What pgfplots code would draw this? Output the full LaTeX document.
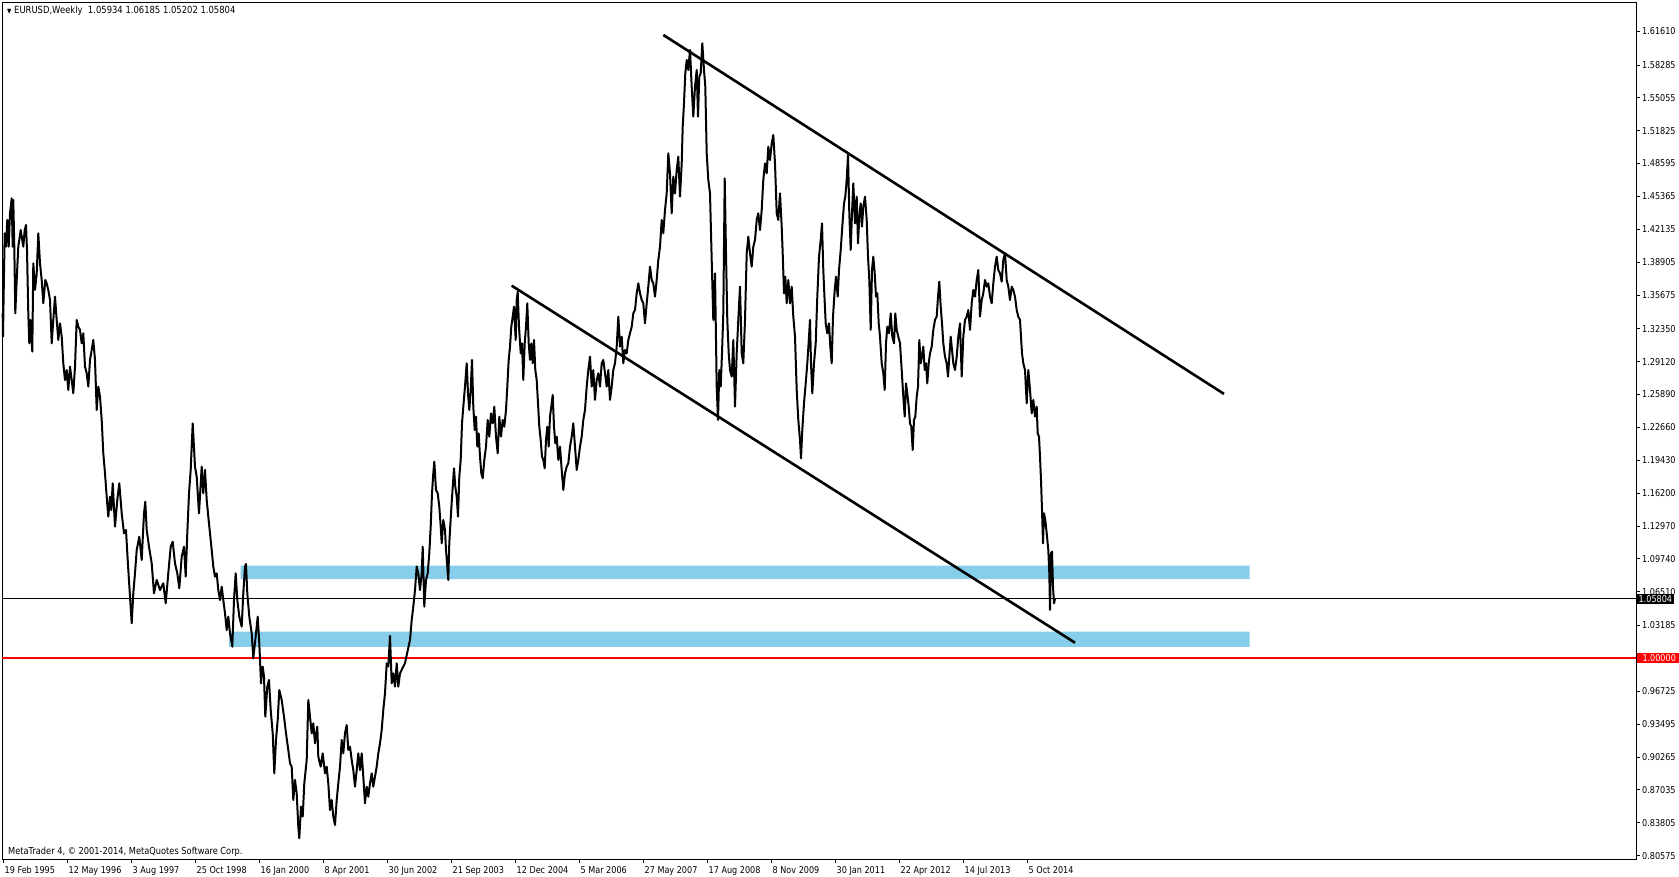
\documentclass[border=0pt]{standalone}
\usepackage{pgfplots}
\usepackage{pgfplotstable}
\pgfplotsset{compat=1.18}
\usepackage{fontspec}
\setmainfont{DejaVu Sans}[FakeStretch=0.86]
\definecolor{band}{HTML}{87CEEB}

\pgfplotstableread{
w p
-0.3 1.3387
0 1.3158
1 1.3780
1.7 1.4174
3 1.4042
4.3 1.4305
5.7 1.4042
7 1.4370
8.7 1.4518
9.7 1.4042
10.3 1.4501
11.3 1.4042
12.3 1.3387
13.7 1.3715
15.3 1.4042
17.7 1.4206
20.3 1.4042
21.7 1.4206
23 1.4255
24 1.4010
25.3 1.3387
26.3 1.3092
27.3 1.3322
29.3 1.3011
30.3 1.3879
32 1.3617
33.7 1.3780
35.3 1.4174
37 1.3879
38.7 1.3715
40.3 1.3486
42.3 1.3715
43.7 1.3682
45.3 1.3617
47 1.3518
48.7 1.3092
50.3 1.3322
52 1.3551
53.7 1.3322
55.3 1.3125
57 1.3289
58.7 1.3158
60.3 1.2896
62 1.2732
63.7 1.2830
65.3 1.2634
67 1.2863
68.7 1.2732
70.3 1.2601
72 1.2863
73.7 1.3322
75.3 1.3256
77 1.3224
78.7 1.3092
80.3 1.3191
82 1.2863
83.7 1.2798
85.3 1.2667
87 1.2929
88.7 1.3027
90.3 1.3125
92 1.2929
93.7 1.2437
95.3 1.2667
97 1.2568
98.7 1.2339
100.3 1.2011
102 1.1815
103.7 1.1585
105.3 1.1389
107 1.1585
108.3 1.1454
109.7 1.1717
112 1.1291
114.3 1.1553
116.3 1.1717
118.7 1.1422
121 1.1225
123 1.1258
124.7 1.0963
127 1.0603
128.7 1.0341
130.3 1.0636
132 1.0832
133.7 1.1061
136.3 1.1192
138.7 1.0963
141 1.1422
142.3 1.1536
143.7 1.1258
146 1.1094
148.7 1.0930
151 1.0636
153.7 1.0767
157 1.0668
160.3 1.0734
162.7 1.0537
165.3 1.0832
167.7 1.1094
169.7 1.1143
172 1.0930
174.3 1.0832
176.3 1.0685
178.7 1.0996
181 1.1094
182.7 1.0799
184.3 1.1225
186 1.1618
187.7 1.1848
189.7 1.2306
192 1.1880
193.7 1.1782
196 1.1422
198.7 1.1880
200.3 1.1618
202 1.1848
203.7 1.1553
205.3 1.1389
207 1.1225
208.7 1.1061
210.3 1.0898
212 1.0799
213.7 1.0832
215.3 1.0668
217 1.0570
218.7 1.0701
220.3 1.0570
222 1.0439
223.7 1.0275
225.3 1.0406
227 1.0242
229.3 1.0111
231 1.0570
232.7 1.0832
234.3 1.0570
236.3 1.0406
238.7 1.0308
240.3 1.0635
242 1.0898
243 1.0924
244.3 1.0635
246.3 1.0406
248.7 1.0242
250.3 0.9997
252.3 1.0177
254.7 1.0406
256.3 1.0144
258 0.9751
259.7 0.9915
261 0.9816
262.3 0.9423
264.3 0.9718
266 0.9784
267.7 0.9489
269.7 0.9260
271.3 0.8866
273 0.9194
274.7 0.9391
276.3 0.9685
278.7 0.9587
281 0.9423
283 0.9260
285.3 0.9096
287 0.8965
288.7 0.8932
290.3 0.8604
292 0.8801
293.7 0.8670
295.3 0.8342
296.3 0.8228
298 0.8539
299.7 0.8441
301.3 0.8768
303.7 0.8997
305.3 0.9587
307 0.9423
308.7 0.9260
310.3 0.9358
312 0.9161
314.3 0.9325
315.3 0.9030
317.7 0.8932
319.7 0.9063
322 0.8866
323.7 0.8932
325.3 0.8768
327 0.8506
328.7 0.8604
330.3 0.8441
332 0.8359
333.7 0.8604
335.3 0.8768
337 0.8932
338.7 0.9194
340.3 0.9063
342 0.9260
343.7 0.9341
345.3 0.9096
347 0.9128
348.7 0.8997
350.3 0.8899
352 0.8735
353.7 0.8899
355.3 0.9063
357 0.8899
358.7 0.9063
360.3 0.8834
362 0.8572
363.7 0.8735
365.3 0.8637
367 0.8768
368.7 0.8866
370.3 0.8735
372 0.8834
373.7 0.8932
375.3 0.9063
377 0.9161
378.7 0.9292
380.3 0.9489
382 0.9653
383.7 0.9948
385.3 0.9915
387 1.0216
388.7 0.9751
390.3 0.9849
392 0.9718
393.7 0.9948
395.3 0.9718
397 0.9849
402 0.9950
407 1.0177
408.7 1.0373
410.3 1.0504
412 1.0668
413.7 1.0898
415.3 1.0832
417 1.0668
418.7 1.0832
419.7 1.1094
421.3 1.0504
423 1.0766
424.7 1.0832
426.3 1.1029
427.7 1.1291
429 1.1618
430.3 1.1815
431.3 1.1929
433 1.1651
434.7 1.1618
436.3 1.1487
437.7 1.1291
438.7 1.1127
440.3 1.1356
442 1.1258
443 1.1061
444.3 1.0898
445.3 1.0766
446.3 1.1127
448 1.1422
449.3 1.1618
451 1.1864
452.3 1.1684
453.7 1.1585
455 1.1389
456.3 1.1782
457.7 1.1946
459 1.2306
460.3 1.2470
462 1.2667
463.7 1.2896
465 1.2601
466.3 1.2437
467.7 1.2634
469 1.2929
470.3 1.2470
471.7 1.2241
473 1.2372
474.3 1.2077
475.7 1.2208
477 1.1979
478.3 1.1815
479.7 1.1766
481.3 1.1946
483 1.2077
484.7 1.2339
486.3 1.2175
488 1.2404
489.7 1.2306
491.3 1.2470
493 1.2175
494.7 1.2011
496.3 1.2372
498 1.2175
499.7 1.2339
501.3 1.2273
503 1.2437
504.3 1.2667
505.7 1.2929
507 1.3060
508.3 1.3256
509.7 1.3355
511 1.3453
512.7 1.3125
513.7 1.3518
514.7 1.3600
516 1.3256
517.7 1.2994
519 1.3092
520.3 1.2732
521.7 1.3092
523 1.3256
524.3 1.3486
525.7 1.3092
527 1.2929
528.3 1.3092
529.7 1.2896
531 1.3125
532.3 1.2830
533.7 1.2732
535 1.2503
536.3 1.2273
537.7 1.2142
539 1.1979
540.3 1.1946
541.7 1.1864
543 1.2142
544.3 1.2273
545.7 1.2077
547 1.2372
548.3 1.2470
549.7 1.2585
551 1.2273
552.3 1.2110
553.7 1.2175
555.3 1.1946
557 1.2077
558.7 1.1848
560.3 1.1651
562 1.1815
563.7 1.1880
565.3 1.1913
567 1.2077
568.7 1.2175
570.3 1.2306
572 1.2077
573.7 1.1848
575.3 1.1946
577 1.2077
578.7 1.2175
580.3 1.2339
582 1.2437
583.7 1.2667
585.3 1.2830
587 1.2961
588.7 1.2667
590.3 1.2830
592 1.2536
593.7 1.2732
595.3 1.2798
597 1.2667
598.7 1.2896
600.3 1.2929
602 1.2798
603.7 1.2667
605.3 1.2830
607 1.2536
608.7 1.2667
610.3 1.2830
612 1.2896
613.7 1.3060
615.3 1.3355
617 1.3060
618.7 1.3158
620.3 1.2896
622 1.3027
623.7 1.2994
625.3 1.3125
627 1.3191
628.7 1.3256
630.3 1.3387
632 1.3420
633.7 1.3584
635.3 1.3682
637 1.3584
638.7 1.3518
640.3 1.3486
642 1.3289
643.7 1.3486
645.3 1.3649
647 1.3846
648.7 1.3715
650.3 1.3682
652 1.3551
653.7 1.3715
655.3 1.3911
657 1.4042
658.7 1.4305
660.3 1.4174
662 1.4403
663.7 1.4567
665.3 1.4960
667 1.4763
668.7 1.4370
670.3 1.4730
672 1.4567
673.7 1.4796
675.3 1.4927
677 1.4534
678.7 1.4861
679.7 1.5222
681 1.5451
682.3 1.5746
683.7 1.5877
685.3 1.5779
687 1.5975
688.7 1.5615
690.3 1.5320
692 1.5615
693.7 1.5779
695 1.5320
696.3 1.5713
697.7 1.5746
699.3 1.6041
701 1.5779
702.3 1.5615
703.7 1.4960
705.3 1.4698
707 1.4567
708.7 1.3911
710.3 1.3322
712 1.3780
713.7 1.2667
715 1.2339
716.3 1.2830
717.7 1.2667
719 1.2994
720.3 1.3387
721.7 1.4714
723 1.3977
724.3 1.3322
725.7 1.2994
727 1.2830
728.7 1.2765
730.3 1.3125
732 1.2470
733.7 1.2994
735.3 1.3322
737 1.3649
738.7 1.2994
740.3 1.2896
742 1.3322
743.7 1.3977
745.3 1.4141
747 1.3977
748.7 1.3846
750.3 1.4042
752 1.4108
753.7 1.4305
755.3 1.4370
757 1.4206
758.7 1.4403
760.3 1.4698
762 1.4861
763.7 1.4763
765.3 1.5025
767 1.4894
768.7 1.5058
770.3 1.5140
772 1.4861
773.7 1.4370
775.3 1.4305
777 1.4567
778.7 1.4239
779.7 1.3977
781 1.3584
782.3 1.3748
783.7 1.3486
785.3 1.3715
787 1.3486
788.7 1.3649
790.3 1.3355
792 1.3158
793.7 1.2634
795.3 1.2339
797 1.2142
798 1.1962
799.3 1.2241
801 1.2503
802.7 1.2699
804.3 1.2896
806 1.3158
807 1.3322
808 1.2896
809.3 1.2601
811 1.2896
812.7 1.3092
814.3 1.3551
816 1.3944
817.7 1.4108
819 1.4272
820.3 1.3813
821.3 1.3584
822.7 1.3289
824.3 1.3191
826 1.3289
827.3 1.3060
828.7 1.2896
830 1.3355
831.7 1.3617
833 1.3748
834.7 1.3551
836 1.3813
837.7 1.4010
839.3 1.4239
841 1.4468
842.3 1.4534
843.7 1.4698
845 1.4943
846.3 1.4370
847.7 1.4010
849 1.4370
850.3 1.4665
852 1.4272
853.7 1.4534
855 1.4075
856.3 1.4337
857.7 1.4468
859 1.4239
860.3 1.4436
862 1.4534
863.7 1.4305
865 1.3944
866.3 1.3715
867.7 1.3224
869 1.3813
870.3 1.3944
871.7 1.3780
873 1.3551
874.3 1.3584
875.7 1.3289
877 1.3158
878.7 1.2896
880.3 1.2798
881.7 1.2634
883 1.3092
884.3 1.3256
886 1.3191
887.7 1.3387
889.3 1.3158
891 1.3092
892.3 1.3387
893.7 1.3224
895.3 1.3158
897 1.3092
898.7 1.2830
900.3 1.2568
901.7 1.2372
903 1.2699
904.3 1.2601
905.7 1.2470
907 1.2306
908.3 1.2273
909.7 1.2044
911 1.2339
912.3 1.2372
913.7 1.2568
915 1.2667
916.3 1.3125
917.7 1.2896
919 1.2961
920.3 1.3060
921.7 1.2830
923 1.2896
924.3 1.2699
925.7 1.2896
927 1.2994
928.7 1.3060
930.3 1.3224
932 1.3322
933.7 1.3355
935 1.3551
936.3 1.3699
937.7 1.3453
939 1.3289
940.3 1.3092
942 1.2961
943.7 1.2896
945 1.2765
946.3 1.2961
947.7 1.3158
949 1.3027
950.3 1.2896
952 1.2830
953.7 1.2961
955.3 1.3158
957 1.3289
958.7 1.2765
960.3 1.3158
962 1.3322
963.7 1.3355
965.3 1.3420
967 1.3224
968.7 1.3486
970.3 1.3617
972 1.3551
973.7 1.3715
975.3 1.3813
977 1.3355
978.7 1.3518
980.3 1.3584
982 1.3715
983.7 1.3649
985.3 1.3682
987 1.3551
988.7 1.3486
990.3 1.3682
992 1.3846
993.7 1.3944
995.3 1.3813
997 1.3780
998.7 1.3698
1000.3 1.3911
1002 1.3977
1003.7 1.3715
1005.3 1.3649
1007 1.3518
1008.7 1.3649
1010.3 1.3617
1012 1.3551
1013.7 1.3420
1015.3 1.3354
1017 1.3322
1018 1.3158
1019 1.2994
1020.3 1.2896
1022 1.2830
1023.7 1.2503
1025.3 1.2830
1027 1.2634
1028.7 1.2404
1030.3 1.2536
1032 1.2372
1033.7 1.2470
1034.7 1.2208
1036 1.2175
1037 1.1979
1038 1.1749
1039 1.1454
1040 1.1127
1041 1.1422
1042.3 1.1356
1043.7 1.1225
1045.3 1.1061
1046.3 1.0832
1047 1.0472
1048 1.1029
1049 1.1045
1050 1.0701
1051 1.0537
1052 1.05804
}\price

\begin{document}
\begin{tikzpicture}[x=1pt,y=1pt]
\path[use as bounding box] (0,0) rectangle (1679,877);
\begin{axis}[
  at={(2pt,18pt)}, anchor=south west,
  scale only axis, width=1634pt, height=857pt,
  xmin=-1, xmax=1633, ymin=0.80244, ymax=1.64470,
  axis line style={black, line width=0.8pt},
  xtick={0,64,128,192,256,320,384,448,512,576,640,704,768,832,896,960,1024},
  xticklabels={19 Feb 1995,12 May 1996,3 Aug 1997,25 Oct 1998,16 Jan 2000,8 Apr 2001,30 Jun 2002,21 Sep 2003,12 Dec 2004,5 Mar 2006,27 May 2007,17 Aug 2008,8 Nov 2009,30 Jan 2011,22 Apr 2012,14 Jul 2013,5 Oct 2014},
  ytick={0.80575,0.83805,0.87035,0.90265,0.93495,0.96725,1.00000,1.03185,1.06510,1.09740,1.12970,1.16200,1.19430,1.22660,1.25890,1.29120,1.32350,1.35675,1.38905,1.42135,1.45365,1.48595,1.51825,1.55055,1.58285,1.61610},
  yticklabels={0.80575,0.83805,0.87035,0.90265,0.93495,0.96725,1.00000,1.03185,1.06510,1.09740,1.12970,1.16200,1.19430,1.22660,1.25890,1.29120,1.32350,1.35675,1.38905,1.42135,1.45365,1.48595,1.51825,1.55055,1.58285,1.61610},
  xtick pos=bottom, ytick pos=right, yticklabel pos=right,
  tick align=outside, major tick length=4pt,
  tick style={black, line width=0.8pt},
  every tick label/.append style={font=\fontsize{9.4}{9.4}\selectfont, inner sep=0pt, text=black},
  xticklabel style={anchor=base west, xshift=1.5pt, yshift=-11pt},
  yticklabel style={anchor=west, xshift=2pt},
  clip=false,
]
% blue zones
\addplot[fill=band, draw=none] coordinates {(237.7,1.0776) (1246.6,1.0776) (1246.6,1.0907) (237.7,1.0907) (237.7,1.0776)};
\addplot[fill=band, draw=none] coordinates {(226,1.0108) (1246.6,1.0108) (1246.6,1.0258) (226,1.0258) (226,1.0108)};
% horizontal lines
\addplot[black, line width=0.9pt] coordinates {(-1,1.05804) (1633,1.05804)};
\addplot[red, line width=2pt] coordinates {(-1,1.0) (1633,1.0)};
% price
\addplot[black, line width=2pt, line join=round] table[x=w, y=p] {\price};
% trend lines
\addplot[black, line width=2.6pt] coordinates {(660.3,1.6123) (1221,1.2595)};
\addplot[black, line width=2.6pt] coordinates {(508.7,1.3659) (1072,1.0150)};
% price labels
\node[fill=black, text=white, anchor=west, inner xsep=1.5pt, inner ysep=1.5pt, font=\fontsize{9.4}{9.4}\selectfont, xshift=1pt] at (axis cs:1633,1.05804) {1.05804};
\node[fill=red, text=white, anchor=west, inner xsep=1.5pt, inner ysep=1.8pt, minimum width=44pt, align=left, font=\fontsize{9.4}{9.4}\selectfont, xshift=1pt] at (axis cs:1633,1.0) {1.00000\hfill};
\end{axis}
\node[anchor=west, inner sep=0pt, font=\fontsize{9.8}{9.8}\selectfont] at (7,866) {{\fontsize{6.5}{6.5}\selectfont ▼}\ EURUSD,Weekly\ \ 1.05934 1.06185 1.05202 1.05804};
\node[anchor=west, inner sep=0pt, font=\fontsize{9.6}{9.6}\selectfont] at (8,25) {MetaTrader 4, © 2001-2014, MetaQuotes Software Corp.};
\end{tikzpicture}
\end{document}
